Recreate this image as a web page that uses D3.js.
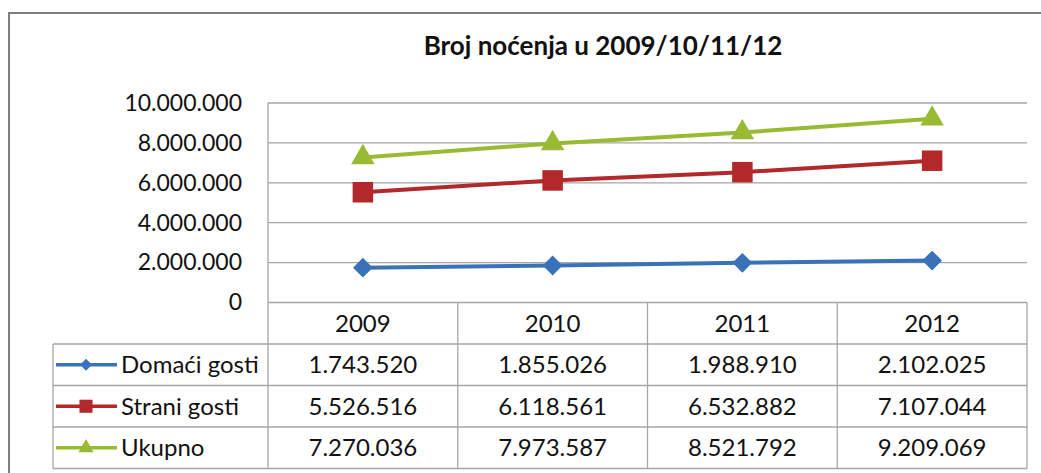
<!DOCTYPE html>
<html>
<head>
<meta charset="utf-8">
<script src="https://cdn.jsdelivr.net/npm/d3@7"></script>
<style>
  body { margin: 0; background: #fff; }
  svg { display: block; }
</style>
</head>
<body>
<svg id="chart" width="1041" height="473"></svg>
<script>
const years = ["2009", "2010", "2011", "2012"];
const domaci = [1743520, 1855026, 1988910, 2102025];
const strani = [5526516, 6118561, 6532882, 7107044];
const ukupno = [7270036, 7973587, 8521792, 9209069];
const seriesNames = ["Domaći gosti", "Strani gosti", "Ukupno"];
const seriesColors = ["#3a72ba", "#b2282b", "#99bb33"];
const seriesShapes = [d3.symbolDiamond2, d3.symbolSquare, d3.symbolTriangle];
const yTicks = [0, 2000000, 4000000, 6000000, 8000000, 10000000];
const title = "Broj noćenja u 2009/10/11/12";

const series = [domaci, strani, ukupno];

const svg = d3.select("#chart")
  .attr("font-family", "Lato, sans-serif");

const plot = {left: 268, right: 1027, top: 103, bottom: 302.5};
const tableLeft = 53;
const rowH = 41.5;

// outer border of the chart
svg.append("rect")
  .attr("x", 9).attr("y", 13)
  .attr("width", 1060).attr("height", 500)
  .attr("fill", "none")
  .attr("stroke", "#7f7f7f")
  .attr("stroke-width", 2);

svg.append("text")
  .attr("x", 603).attr("y", 55)
  .attr("text-anchor", "middle")
  .attr("font-weight", "bold")
  .attr("font-size", 26)
  .attr("fill", "#111")
  .text(title);

const x = d3.scaleBand()
  .domain(years)
  .range([plot.left, plot.right]);

const y = d3.scaleLinear()
  .domain([0, 10000000])
  .range([plot.bottom, plot.top]);

const loc = d3.formatLocale({decimal: ",", thousands: ".", grouping: [3], currency: ["", ""]});
const fmt = loc.format(",d");

// gridlines
svg.append("g")
  .selectAll("line")
  .data(yTicks)
  .join("line")
  .attr("x1", plot.left).attr("x2", plot.right)
  .attr("y1", d => y(d)).attr("y2", d => y(d))
  .attr("stroke", "#a6a6a6")
  .attr("stroke-width", 1.3);

// y axis labels
const yAxis = svg.append("g")
  .attr("transform", `translate(${plot.left},0)`)
  .call(d3.axisLeft(y).tickValues(yTicks).tickFormat(fmt).tickSize(0).tickPadding(26))
  .call(g => g.select(".domain").remove());
yAxis.selectAll("text")
  .attr("font-family", "Lato, sans-serif")
  .attr("font-size", 23)
  .attr("fill", "#111");

// data table
const tableBottom = plot.bottom + rowH * 4;
const grid = svg.append("g")
  .attr("stroke", "#a6a6a6")
  .attr("stroke-width", 1.3);

// vertical lines
grid.selectAll(".v")
  .data(years.concat(["end"]))
  .join("line")
  .attr("class", "v")
  .attr("x1", (d, i) => i < years.length ? x(d) : x.range()[1])
  .attr("x2", (d, i) => i < years.length ? x(d) : x.range()[1])
  .attr("y1", (d, i) => i === 0 ? plot.top : plot.bottom)
  .attr("y2", tableBottom);

grid.append("line")
  .attr("x1", tableLeft).attr("x2", tableLeft)
  .attr("y1", plot.bottom + rowH).attr("y2", tableBottom);

// horizontal row lines
grid.selectAll(".h")
  .data(d3.range(1, 5))
  .join("line")
  .attr("class", "h")
  .attr("x1", tableLeft).attr("x2", plot.right)
  .attr("y1", d => plot.bottom + rowH * d)
  .attr("y2", d => plot.bottom + rowH * d);

// header years
svg.append("g")
  .selectAll("text")
  .data(years)
  .join("text")
  .attr("x", d => x(d) + x.bandwidth() / 2)
  .attr("y", plot.bottom + rowH / 2)
  .attr("dy", "0.35em")
  .attr("text-anchor", "middle")
  .attr("font-size", 24)
  .attr("fill", "#111")
  .text(d => d);

const symbolSizes = [250, 420, 240];
const keySizes = [90, 170, 100];

// rows with legend keys and values
series.forEach((vals, si) => {
  const rowY = plot.bottom + rowH * (si + 1) + rowH / 2;
  const row = svg.append("g");

  row.append("line")
    .attr("x1", tableLeft + 3).attr("x2", 117)
    .attr("y1", rowY).attr("y2", rowY)
    .attr("stroke", seriesColors[si])
    .attr("stroke-width", 3.5);

  row.append("path")
    .attr("transform", `translate(86,${rowY})`)
    .attr("d", d3.symbol(seriesShapes[si], keySizes[si])())
    .attr("fill", seriesColors[si]);

  row.append("text")
    .attr("x", 121)
    .attr("y", rowY)
    .attr("dy", "0.35em")
    .attr("font-size", 24)
    .attr("fill", "#111")
    .text(seriesNames[si]);

  row.selectAll(".val")
    .data(vals)
    .join("text")
    .attr("class", "val")
    .attr("x", (d, i) => x(years[i]) + x.bandwidth() / 2)
    .attr("y", rowY)
    .attr("dy", "0.35em")
    .attr("text-anchor", "middle")
    .attr("font-size", 24)
    .attr("fill", "#111")
    .text(d => fmt(d));
});

// lines and markers
const line = d3.line()
  .x((d, i) => x(years[i]) + x.bandwidth() / 2)
  .y(d => y(d));

series.forEach((vals, si) => {
  svg.append("path")
    .datum(vals)
    .attr("d", line)
    .attr("fill", "none")
    .attr("stroke", seriesColors[si])
    .attr("stroke-width", 4);

  svg.append("g")
    .selectAll("path")
    .data(vals)
    .join("path")
    .attr("transform", (d, i) => `translate(${x(years[i]) + x.bandwidth() / 2},${y(d)})`)
    .attr("d", d3.symbol(seriesShapes[si], symbolSizes[si])())
    .attr("fill", seriesColors[si]);
});
</script>
</body>
</html>
